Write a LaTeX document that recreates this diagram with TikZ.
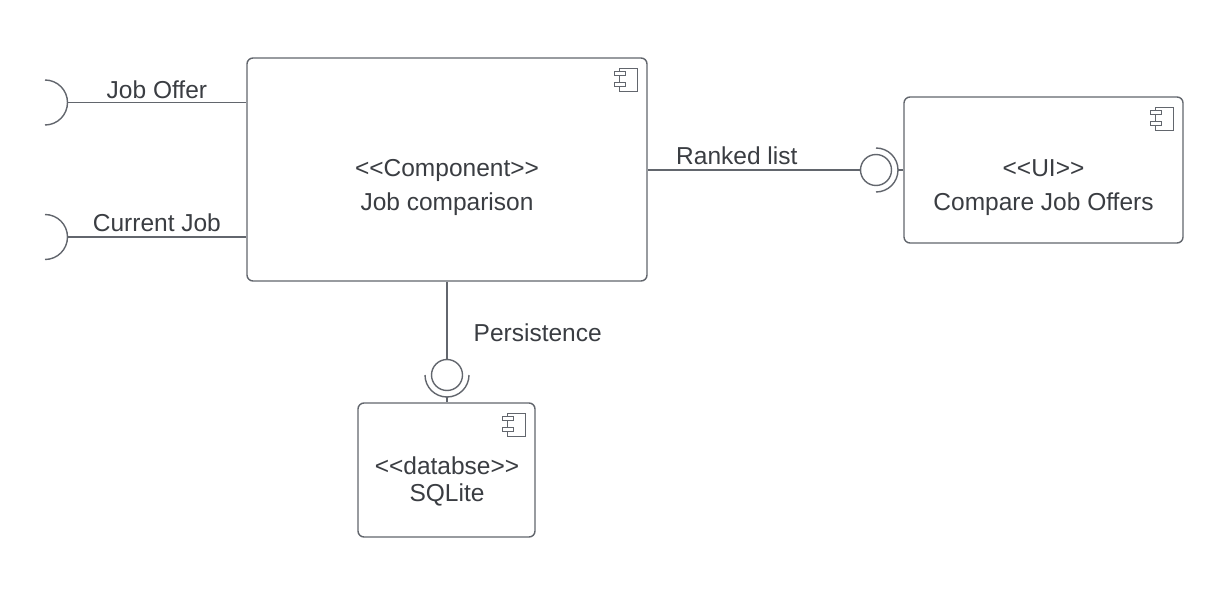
\documentclass[tikz,border=0pt]{standalone}
\usepackage{fontspec}
\newfontfamily\umlfont{Liberation Sans}
\usepackage{tikz}
\usetikzlibrary{positioning,calc}
\definecolor{wirecol}{HTML}{62666D}
\definecolor{textcol}{HTML}{3A3D42}

\begin{document}
\begin{tikzpicture}[x=1pt,y=1pt,yscale=-1,
  comp/.style={draw=wirecol,line width=1.4pt,rounded corners=6pt,
    fill=white,inner sep=0pt},
  txt/.style={font=\umlfont\fontsize{24.5}{30}\selectfont,text=textcol,
    inner sep=0pt,anchor=base},
  wire/.style={draw=wirecol,line width=1.4pt},
  ball/.style={circle,draw=wirecol,line width=1.4pt,minimum size=31pt,
    inner sep=0pt},
  icon/.style={draw=wirecol,line width=1pt,fill=white}]

\useasboundingbox (0,0) rectangle (1222,612);

% components
\node[comp,minimum width=400pt,minimum height=223pt] (main) at (447,169.5) {};
\node[comp,minimum width=279pt,minimum height=146pt] (ui) at (1043.5,170) {};
\node[comp,minimum width=177pt,minimum height=134pt] (db) at (446.5,470) {};

\node[txt] (mainst) at (447,177) {<<Component>>};
\node[txt] (mainnm) at (447,211) {Job comparison};
\node[txt] (uist) at (1043.5,177) {<<UI>>};
\node[txt] (uinm) at (1043.5,211) {Compare Job Offers};
\node[txt] (dbst) at (447,474) {<<databse>>};
\node[txt] (dbnm) at (447,501) {SQLite};

% component icons
\foreach \c in {main,ui,db}{
  \draw[icon] ([shift={(-28,11)}]\c.north east) rectangle
    ([shift={(-10,34)}]\c.north east);
  \draw[icon] ([shift={(-33,14)}]\c.north east) rectangle
    ([shift={(-22,18)}]\c.north east);
  \draw[icon] ([shift={(-33,25)}]\c.north east) rectangle
    ([shift={(-22,29)}]\c.north east);
}

% required interfaces on the left
\coordinate (offersock) at (67.5,102.5);
\coordinate (cursock) at (67.5,237);
\draw[wire] (45,80) arc[start angle=-90,end angle=90,radius=22.5];
\draw[wire] (45,214.5) arc[start angle=-90,end angle=90,radius=22.5];
\draw[wire] (offersock) -- node[txt,anchor=south,yshift=3.5pt]
  (offerlbl) {Job Offer} (offersock -| main.west);
\draw[wire] (cursock) -- node[txt,anchor=south,yshift=5pt]
  (curlbl) {Current Job} (cursock -| main.west);

% ranked list
\node[ball] (uiball) at (876,170) {};
\coordinate (uisock) at (898,170);
\draw[wire] (876,148) arc[start angle=-90,end angle=90,radius=22];
\draw[wire] (uiball -| main.east) -- node[txt,pos=0.42,anchor=south,yshift=5pt]
  (rankedlbl) {Ranked list} (uiball.west);
\draw[wire] (uisock) -- (uisock -| ui.west);

% persistence
\node[ball] (dbball) at (447,375) {};
\coordinate (dbsock) at (447,397);
\draw[wire] (425,375) arc[start angle=180,end angle=0,radius=22];
\draw[wire] (dbball |- main.south) -- node[txt,pos=0.77,anchor=base west,
  xshift=26pt] (perslbl) {Persistence} (dbball.north);
\draw[wire] (dbsock) -- (dbsock |- db.north);

\end{tikzpicture}
\end{document}
